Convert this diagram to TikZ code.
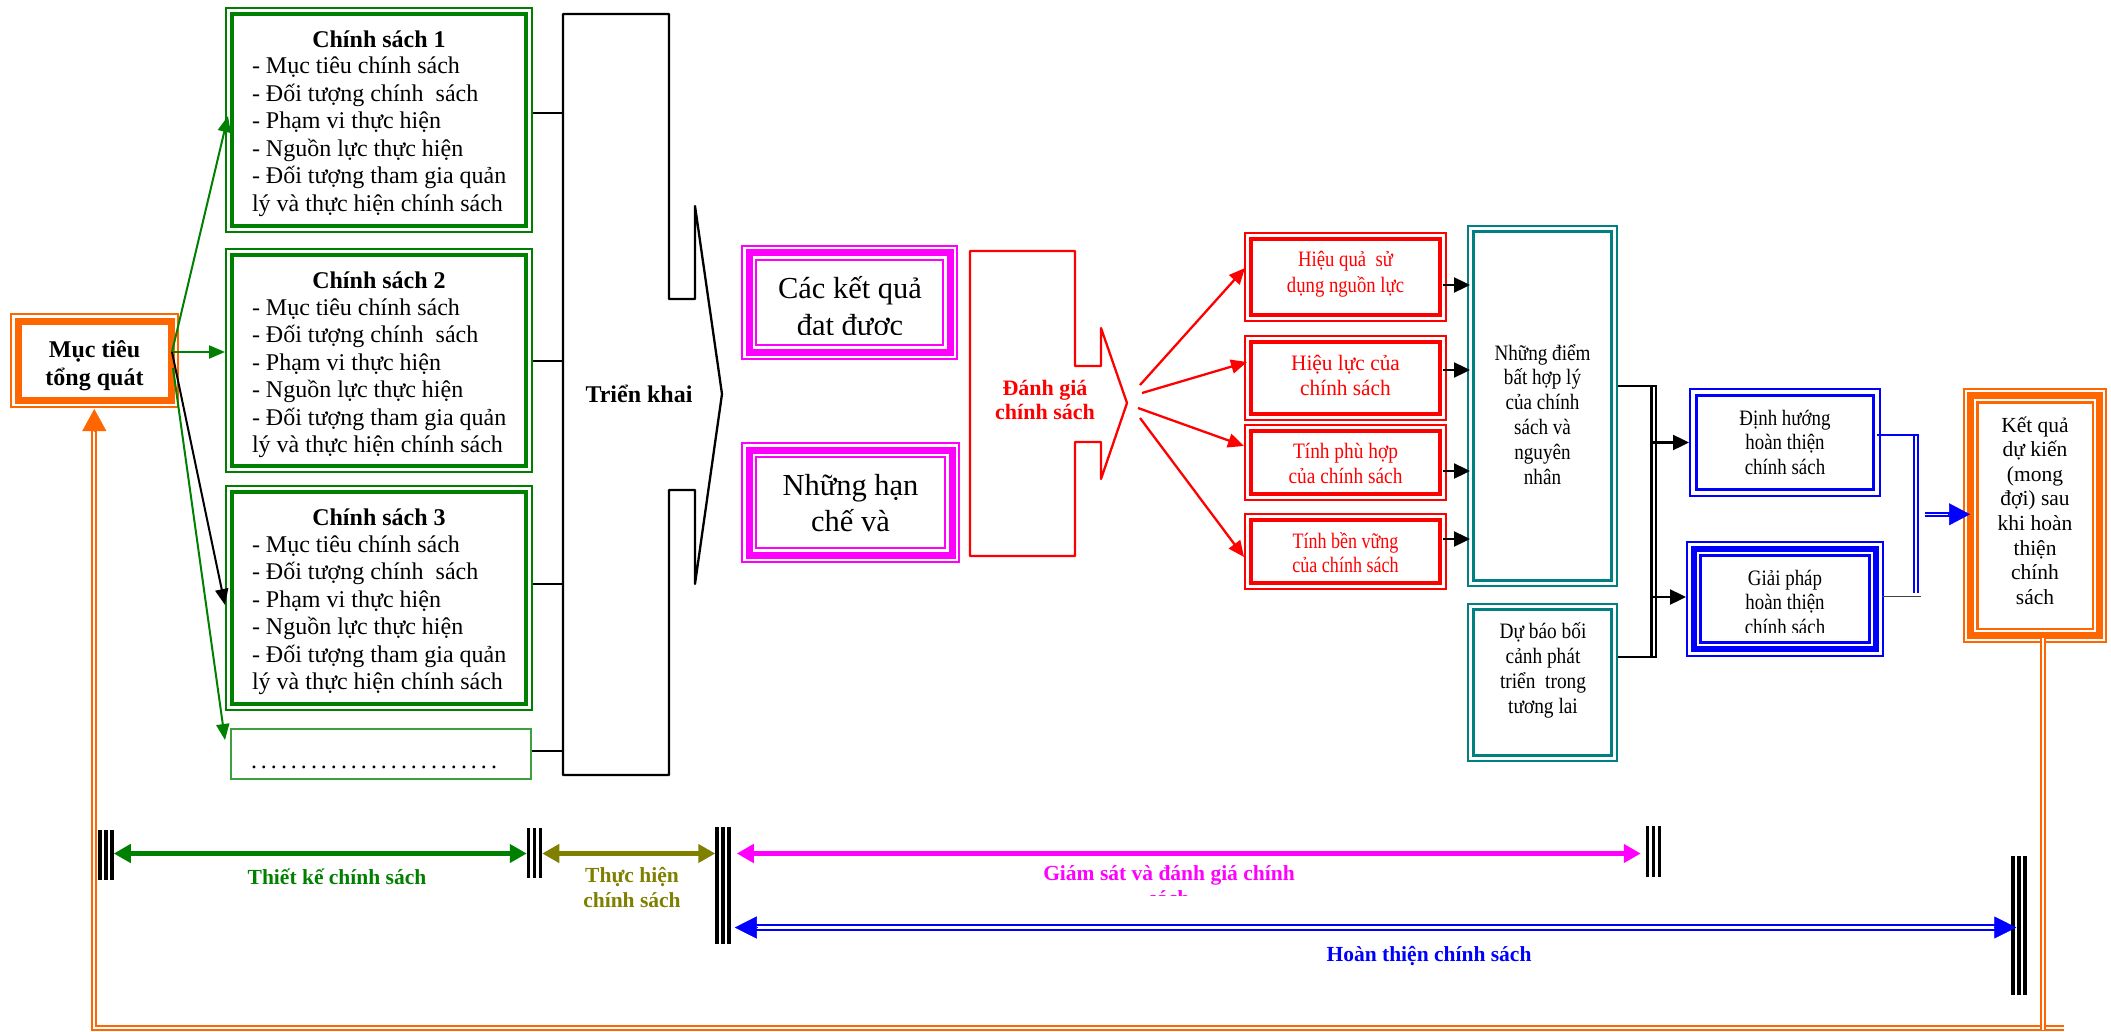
\documentclass[tikz,border=0pt]{standalone}
\usepackage{fontspec}
\setmainfont{Liberation Serif}
\usepackage{graphicx}
\usetikzlibrary{arrows.meta,calc}
\definecolor{cgreen}{RGB}{0,128,0}
\definecolor{clgreen}{RGB}{60,160,60}
\definecolor{corange}{RGB}{255,102,0}
\definecolor{cmag}{RGB}{255,0,255}
\definecolor{cred}{RGB}{255,0,0}
\definecolor{cteal}{RGB}{0,128,128}
\definecolor{cblue}{RGB}{0,0,255}
\definecolor{colive}{RGB}{128,128,0}
\newcommand\fsz[2]{\fontsize{#1}{#2}\selectfont}
\newcommand\brect[4]{\draw[#4,line width=#3] ([xshift=#2,yshift=-#2]#1.north west) rectangle ([xshift=-#2,yshift=#2]#1.south east);}
\newcommand\tlines[7]{\foreach \tx [count=\k] in {#6}{\node[#5] (#1\k) at (#2,{#3+(\k-1)*#4}) {\scalebox{#7}[1]{\tx}};}}
\newcommand\dotk{.\kern4pt}
\newcommand\tbar[1]{\foreach \dx in {1.75,7.75,13.75}{\draw[black,line width=3.5pt] ([xshift=\dx pt]#1.north west) -- ([xshift=\dx pt]#1.south west);}}
\begin{document}
\begin{tikzpicture}[x=1pt,y=-1pt,
 bx/.style 2 args={inner sep=0pt,outer sep=0pt,minimum width=#1pt,minimum height=#2pt},
 txt/.style={inner sep=0pt,outer sep=0pt,anchor=base},
 garr/.style={cgreen,line width=2pt,-{Triangle[length=16pt,width=13pt]}},
 karr/.style={black,line width=2pt,-{Triangle[length=16pt,width=13pt]}},
 rarr/.style={cred,line width=2.3pt,-{Triangle[length=16pt,width=14pt]}},
 barr/.style={black,line width=2.3pt,-{Triangle[length=16pt,width=15pt]}},
 conn/.style={black,line width=2pt},
 fbl/.style={corange,line width=2pt,double=white,double distance=2pt},
 tlarr/.style={line width=5.5pt,{Triangle[length=17pt,width=18pt]}-{Triangle[length=17pt,width=18pt]}},
 lab/.style={inner sep=0pt,outer sep=0pt,anchor=base,font=\bfseries\fsz{21.5}{25}}]
\useasboundingbox[fill=white] (0,0) rectangle (2111,1032);

% ---------- boxes ----------
\node[bx={169}{95}] (mt) at (94.5,360.5) {};
\node[bx={308}{226}] (p1) at (379,120) {};
\node[bx={308}{225}] (p2) at (379,360.5) {};
\node[bx={308}{226}] (p3) at (379,598) {};
\node[bx={302}{52}] (pd) at (381,754) {};
\node[bx={217}{115}] (mg1) at (849.5,302.5) {};
\node[bx={219}{121}] (mg2) at (850.5,502.5) {};
\node[bx={203}{90}] (r1) at (1345.5,277) {};
\node[bx={203}{86}] (r2) at (1345.5,378) {};
\node[bx={203}{77}] (r3) at (1345.5,462.5) {};
\node[bx={203}{77}] (r4) at (1345.5,551.5) {};
\node[bx={151}{362}] (t1) at (1542.5,406) {};
\node[bx={151}{159}] (t2) at (1542.5,682.5) {};
\node[bx={192}{109}] (b1) at (1785,442.5) {};
\node[bx={198}{116}] (b2) at (1785,599) {};
\node[bx={144}{255}] (kq) at (2035,515.5) {};

% borders
\brect{mt}{1pt}{2pt}{corange}\brect{mt}{8pt}{7pt}{corange}
\foreach \n in {p1,p2,p3}{\brect{\n}{1pt}{2pt}{cgreen}\brect{\n}{7pt}{3.5pt}{cgreen}}
\brect{pd}{1pt}{2pt}{clgreen}
\foreach \n in {mg1,mg2}{\brect{\n}{1.2pt}{2.4pt}{cmag}\brect{\n}{8pt}{7pt}{cmag}\brect{\n}{15pt}{2.4pt}{cmag}}
\foreach \n in {r1,r2,r3,r4}{\brect{\n}{1pt}{2pt}{cred}\brect{\n}{7pt}{3.5pt}{cred}}
\foreach \n in {t1,t2}{\brect{\n}{1.2pt}{2.5pt}{cteal}\brect{\n}{6.3pt}{3pt}{cteal}}
\brect{b1}{1.2pt}{2.3pt}{cblue}\brect{b1}{7.5pt}{3.5pt}{cblue}
\brect{b2}{1.2pt}{2.4pt}{cblue}\brect{b2}{8pt}{6.7pt}{cblue}\brect{b2}{14.5pt}{2.4pt}{cblue}
\brect{kq}{1.2pt}{2.4pt}{corange}\brect{kq}{7.7pt}{6.5pt}{corange}\brect{kq}{14.3pt}{2.4pt}{corange}

% ---------- texts ----------
\tlines{mtl}{94.5}{357.3}{27.7}{txt,font=\bfseries\fsz{24}{27.6}}{Mục tiêu, tổng quát}{1}
\node[txt,font=\bfseries\fsz{24}{27.6}] (p1t) at (379,47.3) {Chính sách 1};
\tlines{p1l}{252}{74}{27.5}{txt,anchor=base west,font=\fsz{24}{27.6}}{- Mục tiêu chính sách, - Đối tượng chính\ \ sách, - Phạm vi thực hiện, - Nguồn lực thực hiện, - Đối tượng tham gia quản, lý và thực hiện chính sách}{1}
\node[txt,font=\bfseries\fsz{24}{27.6}] (p2t) at (379,288.3) {Chính sách 2};
\tlines{p2l}{252}{315}{27.5}{txt,anchor=base west,font=\fsz{24}{27.6}}{- Mục tiêu chính sách, - Đối tượng chính\ \ sách, - Phạm vi thực hiện, - Nguồn lực thực hiện, - Đối tượng tham gia quản, lý và thực hiện chính sách}{1}
\node[txt,font=\bfseries\fsz{24}{27.6}] (p3t) at (379,525.3) {Chính sách 3};
\tlines{p3l}{252}{552}{27.5}{txt,anchor=base west,font=\fsz{24}{27.6}}{- Mục tiêu chính sách, - Đối tượng chính\ \ sách, - Phạm vi thực hiện, - Nguồn lực thực hiện, - Đối tượng tham gia quản, lý và thực hiện chính sách}{1}
\node[txt,anchor=base west,font=\fsz{24}{27.6}] (pdt) at (251,768) {\dotk\dotk\dotk\dotk\dotk\dotk\dotk\dotk\dotk\dotk\dotk\dotk\dotk\dotk\dotk\dotk\dotk\dotk\dotk\dotk\dotk\dotk\dotk\dotk.};

\node[txt,font=\fsz{30.5}{37}] (mg1a) at (850,298.3) {Các kết quả};
\begin{scope}
\clip (mg1.north west) rectangle ($(mg1.south east)+(0,-25.5)$);
\node[txt,font=\fsz{30.5}{37}] (mg1b) at (850,335) {đạt được};
\end{scope}
\tlines{mg2l}{850.5}{495}{36}{txt,font=\fsz{30.5}{37}}{Những hạn, chế và}{1}

\tlines{r1l}{1345.5}{267}{25}{txt,font=\fsz{22}{25},text=cred}{Hiệu quả\ \ sử, dụng nguồn lực}{0.85}
\tlines{r2l}{1345.5}{370.7}{24.3}{txt,font=\fsz{22}{25},text=cred}{Hiệu lực của, chính sách}{0.97}
\tlines{r3l}{1345.5}{458.3}{25}{txt,font=\fsz{22}{25},text=cred}{Tính phù hợp, của chính sách}{0.88}
\tlines{r4l}{1345.5}{548.3}{24}{txt,font=\fsz{22}{25},text=cred}{Tính bền vững, của chính sách}{0.82}
\tlines{t1l}{1542.5}{360}{24.8}{txt,font=\fsz{22}{25}}{Những điểm, bất hợp lý, của chính, sách và, nguyên, nhân}{0.87}
\tlines{t2l}{1543}{638}{25}{txt,font=\fsz{22}{25}}{Dự báo bối, cảnh phát, triển\ \ trong, tương lai}{0.88}
\tlines{b1l}{1785}{425}{24.5}{txt,font=\fsz{22}{25}}{Định hướng, hoàn thiện, chính sách}{0.86}
\begin{scope}
\clip (b2.north west) rectangle ($(b2.south east)+(0,-25)$);
\tlines{b2l}{1785}{585}{24.5}{txt,font=\fsz{22}{25}}{Giải pháp, hoàn thiện, chính sách}{0.86}
\end{scope}
\tlines{kql}{2035}{432}{24.6}{txt,font=\fsz{21.5}{25}}{Kết quả, dự kiến, {(mong}, {đợi) sau}, khi hoàn, thiện, chính, sách}{1}

% ---------- Trien khai arrow shape ----------
\draw[black,line width=2.3pt,line join=round] (563,14) -- (669,14) -- (669,299) -- (695,299) -- (695,206) -- (722,394) -- (695,584) -- (695,490) -- (669,490) -- (669,775) -- (563,775) -- cycle;
\coordinate (tkL) at (563,394);
\node[txt,font=\bfseries\fsz{24}{27.6}] (tk) at (639,402) {Triển khai};

% ---------- Danh gia arrow shape ----------
\draw[cred,line width=2.3pt,line join=round] (970,251) -- (1075,251) -- (1075,366) -- (1101,366) -- (1101,328) -- (1127,403) -- (1101,479) -- (1101,442) -- (1075,442) -- (1075,556) -- (970,556) -- cycle;
\coordinate (dgtip) at (1127,403);
\tlines{dgl}{1045}{395}{24}{txt,font=\bfseries\fsz{22}{25},text=cred}{Đánh giá, chính sách}{1}

% ---------- connectors: Muc tieu -> policies ----------
\coordinate (mo1) at ($(mt.east)+(-7,-8.5)$);
\coordinate (mo2) at ($(mt.east)+(-6,7.5)$);
\draw[garr] (mo1) -- ($(p1.west)+(3,-4)$);
\draw[garr] (mo1) -- ($(p2.west)+(0,-8.5)$);
\draw[karr] (mo1) -- ($(p3.west)+(0,7)$);
\draw[garr] (mo2) -- ($(pd.west)+(-5,-14)$);

% policies -> Trien khai
\draw[conn] ($(p1.east)+(0,-7)$) -- ($(p1.east -| tkL)+(0,-7)$);
\draw[conn] (p2.east) -- (p2.east -| tkL);
\draw[conn] ($(p3.east)+(0,-14)$) -- ($(p3.east -| tkL)+(0,-14)$);
\draw[conn] ($(pd.east)+(0,-3)$) -- ($(pd.east -| tkL)+(0,-3)$);

% Danh gia -> red boxes
\draw[rarr] ($(dgtip)+(13,-18)$) -- ($(r1.west)+(1,-9)$);
\draw[rarr] ($(dgtip)+(15,-10)$) -- ($(r2.west)+(3,-16)$);
\draw[rarr] ($(dgtip)+(11,5)$) -- ($(r3.west)+(0,-16.5)$);
\draw[rarr] ($(dgtip)+(13,15)$) -- ($(r4.west)+(0,5.5)$);

% red boxes -> teal box
\draw[barr] ($(r1.east)+(-4,8)$) -- ($(t1.west|-r1.east)+(3,8)$);
\draw[barr] ($(r2.east)+(-4,-8)$) -- ($(t1.west|-r2.east)+(3,-8)$);
\draw[barr] ($(r3.east)+(-4,8.5)$) -- ($(t1.west|-r3.east)+(3,8.5)$);
\draw[barr] ($(r4.east)+(-4,-12.5)$) -- ($(t1.west|-r4.east)+(3,-12.5)$);

% bracket teal -> blue
\draw[conn] ($(t1.east)+(0,-20)$) -- ($(t1.east)+(39,-20)$);
\draw[conn] ($(t2.east)+(0,-25.5)$) -- ($(t2.east)+(39,-25.5)$);
\draw[black,line width=3pt] ($(t1.east)+(33,-21)$) -- ($(t2.east)+(33,-24.5)$);
\draw[black,line width=2pt] ($(t1.east)+(38,-21)$) -- ($(t2.east)+(38,-24.5)$);
\coordinate (bk) at ($(t1.east)+(35,0)$);
\draw[barr] (b1.west -| bk) -- (b1.west);
\draw[barr] ($(b2.west -| bk)+(0,-2)$) -- ($(b2.west)+(0,-2)$);

% blue boxes -> Ket qua
\draw[cblue,line width=1.5pt] ($(b1.east)+(-4,-7.5)$) -- ($(b1.east)+(37,-7.5)$);
\draw[cblue,line width=2.2pt] ($(b1.east)+(32.8,-8.5)$) -- ($(b1.east)+(32.8,150.8)$);
\draw[cblue,line width=2pt] ($(b1.east)+(37.3,-8.5)$) -- ($(b1.east)+(37.3,150.8)$);
\draw[black!75,line width=1.2pt] ($(b2.east)+(-2,-2.3)$) -- ($(b2.east)+(37,-2.3)$);
\coordinate (bja) at (1925,514.3);
\draw[cblue,line width=2pt,double=white,double distance=1.6pt] (bja) -- ($(kq.west)+(-13,-1.2)$);
\draw[cblue,line width=.5pt,-{Triangle[length=21pt,width=22pt]}] ($(kq.west)+(-15,-1.2)$) -- ($(kq.west)+(7,-1.2)$);

% feedback Ket qua -> Muc tieu
\coordinate (fbB) at (94.3,1027.5);
\draw[fbl] (2064,1027.5) -- (fbB) -- ($(mt.south)+(-0.2,23)$);
\draw[fbl] ($(kq.south)+(8.3,-5)$) -- ($(kq.south)+(8.3,387)$);
\draw[corange,line width=.5pt,-{Triangle[length=22pt,width=24pt]}] ($(mt.south)+(-0.2,23)$) -- ($(mt.south)+(-0.2,1)$);

% ---------- timeline ----------
\node[bx={15.5}{50}] (bar1) at (106,855) {};
\node[bx={15.5}{50}] (bar2) at (534.5,853) {};
\node[bx={15.5}{117}] (bar3) at (723,885.5) {};
\node[bx={15.5}{51}] (bar4) at (1653.5,851.5) {};
\node[bx={15.5}{139}] (bar5) at (2019,925.5) {};
\tbar{bar1}\tbar{bar2}\tbar{bar3}\tbar{bar4}\tbar{bar5}
\coordinate (yg) at (0,853.5);
\coordinate (yb) at (0,927.5);
\draw[tlarr,cgreen] (bar1.east |- yg) -- (bar2.west |- yg);
\draw[tlarr,colive] (bar2.east |- yg) -- (bar3.west |- yg);
\draw[tlarr,cmag] ($(bar3.east |- yg)+(6,0)$) -- ($(bar4.west |- yg)+(-5,0)$);
\draw[cblue,line width=2.6pt,double=white,double distance=2.4pt] ($(bar3.east |- yb)+(24,0)$) -- ($(bar5.west |- yb)+(-15,0)$);
\draw[cblue,line width=.5pt,-{Triangle[length=22pt,width=22pt]}] ($(bar3.east |- yb)+(26,0)$) -- ($(bar3.east |- yb)+(4,0)$);
\draw[cblue,line width=.5pt,-{Triangle[length=22pt,width=22pt]}] ($(bar5.west |- yb)+(-17,0)$) -- ($(bar5.west |- yb)+(5,0)$);

\node[lab,text=cgreen] (lt1) at (337,884) {Thiết kế chính sách};
\tlines{lt2}{632}{882.7}{24.5}{lab,text=colive}{Thực hiện, chính sách}{1}
\node[lab,text=cmag] (lt3) at (1169,880) {Giám sát và đánh giá chính};
\begin{scope}
\clip (1000,880) rectangle (1400,895.5);
\node[lab,text=cmag] (lt3b) at (1169,905) {sách};
\end{scope}
\node[lab,text=cblue] (lt4) at (1429,961.7) {Hoàn thiện chính sách};
\end{tikzpicture}
\end{document}
